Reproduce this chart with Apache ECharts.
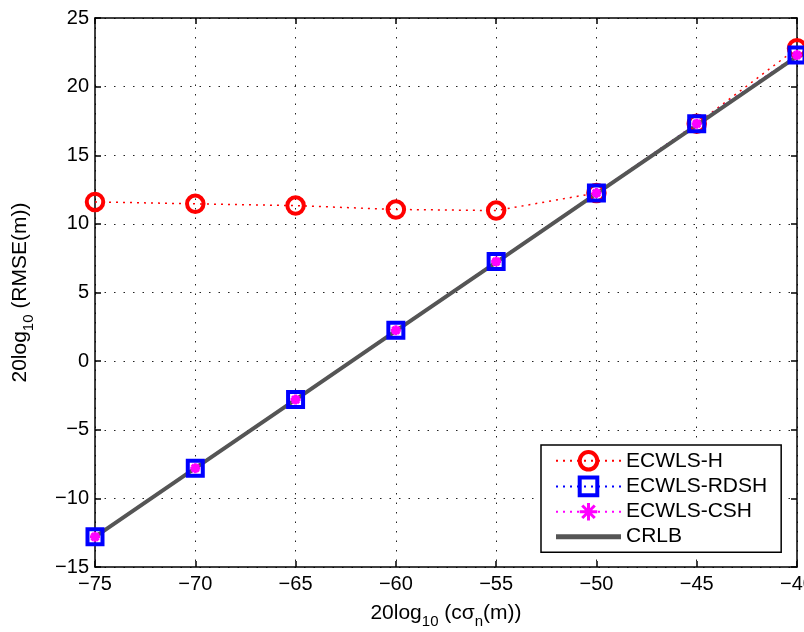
<!DOCTYPE html>
<html>
<head>
<meta charset="utf-8">
<script src="https://cdn.jsdelivr.net/npm/echarts@6/dist/echarts.min.js"></script>
<style>html,body{margin:0;padding:0;background:#fff}#c{width:804px;height:632px}</style>
</head>
<body>
<div id="c"></div>
<script>
var xValues = [-75, -70, -65, -60, -55, -50, -45, -40];
var ecwlsH = [11.6, 11.46, 11.33, 11.05, 10.97, 12.25, 17.3, 22.8];
var ecwlsRDSH = [-12.8, -7.8, -2.8, 2.25, 7.25, 12.25, 17.3, 22.3];
var ecwlsCSH = [-12.8, -7.8, -2.8, 2.25, 7.25, 12.25, 17.3, 22.3];
var crlb = [-12.8, -7.8, -2.8, 2.2, 7.2, 12.2, 17.2, 22.2];
var seriesNames = ['ECWLS-H', 'ECWLS-RDSH', 'ECWLS-CSH', 'CRLB'];

function pairs(ys) { return xValues.map(function (x, i) { return [x, ys[i]]; }); }
var FONT = '"Liberation Sans", Arial, Helvetica, sans-serif';
var FS = 21;
function minus(v) { return String(v).replace('-', '\u2212'); }

var gridLine = { show: true, lineStyle: { color: '#222', width: 1, type: [1.5, 8] } };
var axisLine = { show: true, onZero: false, lineStyle: { color: '#000', width: 1.5 } };
var tick = { show: true, inside: true, length: 6, lineStyle: { color: '#000', width: 1.5 } };
var label = { color: '#000', fontSize: 20, fontFamily: FONT, formatter: minus };
var asterisk = 'path://M0,-10L0,10M-10,0L10,0M-7.1,-7.1L7.1,7.1M-7.1,7.1L7.1,-7.1';
var richName = {
  a: { fontSize: FS, fontFamily: FONT, color: '#000' },
  s: { fontSize: 15, fontFamily: FONT, color: '#000', padding: [16, 0, 0, 0] }
};

var chart = echarts.init(document.getElementById('c'));
chart.setOption({
  animation: false,
  backgroundColor: '#fff',
  grid: { left: 95, right: 7, top: 18, bottom: 65, containLabel: false, outerBoundsMode: 'none' },
  xAxis: [{
    type: 'value', min: -75, max: -40, interval: 5,
    axisLine: axisLine, axisTick: tick, splitLine: gridLine,
    axisLabel: Object.assign({ margin: 7 }, label),
    name: '{a|20log}{s|10}{a| (c\u03c3}{s|n}{a|(m))}',
    nameLocation: 'middle', nameGap: 31,
    nameTextStyle: { fontFamily: FONT, color: '#000', rich: richName }
  }, {
    type: 'value', min: -75, max: -40, interval: 5, position: 'top',
    axisLine: axisLine, axisTick: tick, splitLine: { show: false }, axisLabel: { show: false }
  }],
  yAxis: [{
    type: 'value', min: -15, max: 25, interval: 5,
    axisLine: axisLine, axisTick: tick, splitLine: gridLine,
    axisLabel: Object.assign({ margin: 6 }, label),
    name: '{a|20log}{s|10}{a| (RMSE(m))}',
    nameLocation: 'middle', nameGap: 59, nameRotate: 90,
    nameTextStyle: { fontFamily: FONT, color: '#000', rich: richName }
  }, {
    type: 'value', min: -15, max: 25, interval: 5, position: 'right',
    axisLine: axisLine, axisTick: tick, splitLine: { show: false }, axisLabel: { show: false }
  }],
  legend: {
    orient: 'vertical', left: 541, top: 445,
    backgroundColor: '#fff', borderColor: '#000', borderWidth: 1.5, borderRadius: 0,
    padding: [5, 14, 5, 14], itemWidth: 65, itemHeight: 22, itemGap: 4,
    textStyle: { fontSize: FS, fontFamily: FONT, color: '#000' },
    data: [
      { name: seriesNames[0], itemStyle: { borderWidth: 4 } },
      { name: seriesNames[1], itemStyle: { borderWidth: 4 } },
      { name: seriesNames[2], itemStyle: { borderWidth: 3 } },
      { name: seriesNames[3], icon: 'path://M0,0L65,0L65,5L0,5Z' }
    ]
  },
  series: [{
    name: seriesNames[0], type: 'line', data: pairs(ecwlsH),
    symbol: 'circle', symbolSize: 16.5,
    itemStyle: { color: 'rgba(0,0,0,0)', borderColor: '#ff0000', borderWidth: 4 },
    lineStyle: { color: '#ff0000', width: 1.5, type: [2, 5] }
  }, {
    name: seriesNames[1], type: 'line', data: pairs(ecwlsRDSH),
    symbol: 'rect', symbolSize: 15,
    itemStyle: { color: 'rgba(0,0,0,0)', borderColor: '#0000ff', borderWidth: 4 },
    lineStyle: { color: '#0000ff', width: 1.5, type: [2, 5] }
  }, {
    name: seriesNames[2], type: 'line', data: pairs(ecwlsCSH),
    symbol: asterisk, symbolSize: 10,
    itemStyle: { color: '#ff00ff', borderColor: '#ff00ff', borderWidth: 3 },
    lineStyle: { color: '#ff00ff', width: 1.5, type: [2, 5] }
  }, {
    name: seriesNames[3], type: 'line', data: pairs(crlb),
    symbol: 'none', lineStyle: { color: '#555555', width: 4, type: 'solid' },
    itemStyle: { color: '#555555' }
  }]
});
</script>
</body>
</html>
